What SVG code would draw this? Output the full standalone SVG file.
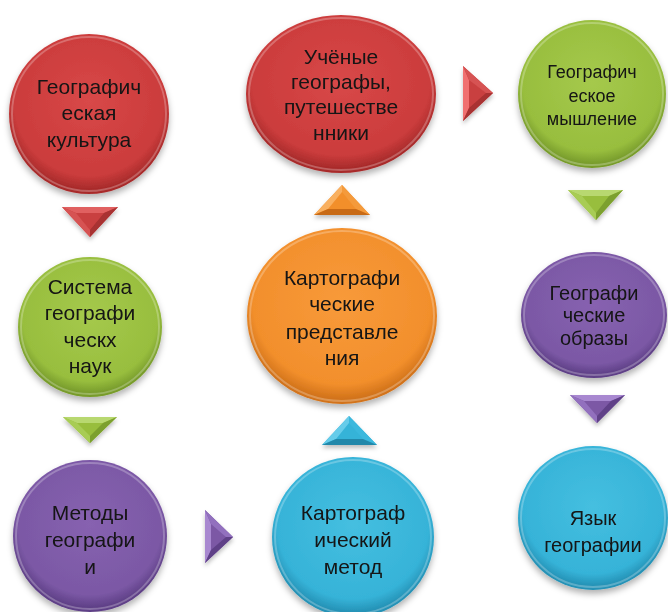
<svg xmlns="http://www.w3.org/2000/svg" width="668" height="612" viewBox="0 0 668 612">
<style>
text{font-family:"Liberation Sans",Arial,sans-serif;font-size:21px;fill:#141414;text-anchor:middle}
.s18{font-size:18px}.s20{font-size:20px}
.node{filter:url(#sh)}
.hl{fill:none;stroke:#fff;stroke-opacity:.25;stroke-width:2}
.edge{fill:none;stroke:#000;stroke-opacity:.18;stroke-width:3}
</style>
<defs>
<filter id="sh" x="-20%" y="-20%" width="140%" height="150%"><feDropShadow dx="0" dy="4" stdDeviation="3" flood-color="#000" flood-opacity="0.3"/></filter>
<radialGradient id="gR" cx="50%" cy="42%" r="55%"><stop offset="0" stop-color="#D84848"/><stop offset="0.85" stop-color="#CB3C3C"/><stop offset="1" stop-color="#A82B2B"/></radialGradient>
<radialGradient id="gG" cx="50%" cy="42%" r="55%"><stop offset="0" stop-color="#A5C94C"/><stop offset="0.85" stop-color="#98BE3E"/><stop offset="1" stop-color="#789C2C"/></radialGradient>
<radialGradient id="gP" cx="50%" cy="42%" r="55%"><stop offset="0" stop-color="#8762B0"/><stop offset="0.85" stop-color="#7B58A5"/><stop offset="1" stop-color="#5F4087"/></radialGradient>
<radialGradient id="gO" cx="50%" cy="42%" r="55%"><stop offset="0" stop-color="#F89A3A"/><stop offset="0.85" stop-color="#F28F2C"/><stop offset="1" stop-color="#D2731A"/></radialGradient>
<radialGradient id="gB" cx="50%" cy="42%" r="55%"><stop offset="0" stop-color="#45BFE0"/><stop offset="0.85" stop-color="#36B3D8"/><stop offset="1" stop-color="#2592B6"/></radialGradient>
<filter id="tsh" x="-30%" y="-30%" width="160%" height="170%"><feDropShadow dx="0" dy="3" stdDeviation="2" flood-color="#000" flood-opacity="0.25"/></filter>
</defs>

<g id="connectors" filter="url(#tsh)">
  <g id="arrow-red-down">
    <polygon points="62,207 118,207 90,237" fill="#C94040"/>
    <polygon points="62,207 118,207 104,213 76,213" fill="#E06060"/>
    <polygon points="62,207 76,213 90,230 90,237" fill="#D65252"/>
    <polygon points="118,207 104,213 90,230 90,237" fill="#A83030"/>
  </g>
  <g id="arrow-green-down-left">
    <polygon points="63,417 117,417 90,443" fill="#98BE3E"/>
    <polygon points="63,417 117,417 103,423 77,423" fill="#B8D870"/>
    <polygon points="63,417 77,423 90,436 90,443" fill="#A8CC55"/>
    <polygon points="117,417 103,423 90,436 90,443" fill="#7CA02E"/>
  </g>
  <g id="arrow-purple-right">
    <polygon points="205,510 205,563 233,537" fill="#7B58A5"/>
    <polygon points="205,510 205,563 211,550 211,524" fill="#A888D0"/>
    <polygon points="205,510 211,524 226,537 233,537" fill="#9270BE"/>
    <polygon points="205,563 211,550 226,537 233,537" fill="#5F4087"/>
  </g>
  <g id="arrow-blue-up">
    <polygon points="322,445 377,445 349,416" fill="#36B3D8"/>
    <polygon points="322,445 336,439 349,423 349,416" fill="#66CCEA"/>
    <polygon points="377,445 363,439 349,423 349,416" fill="#3AB8DD"/>
    <polygon points="322,445 377,445 363,439 336,439" fill="#2488AA"/>
  </g>
  <g id="arrow-orange-up">
    <polygon points="314,215 370,215 342,185" fill="#F28F2C"/>
    <polygon points="314,215 328,209 342,192 342,185" fill="#F9B060"/>
    <polygon points="370,215 356,209 342,192 342,185" fill="#F49A3A"/>
    <polygon points="314,215 370,215 356,209 328,209" fill="#C86A16"/>
  </g>
  <g id="arrow-red-right">
    <polygon points="463,66 463,121 493,93" fill="#C94040"/>
    <polygon points="463,66 463,121 469,108 469,80" fill="#F07070"/>
    <polygon points="463,66 469,80 486,93 493,93" fill="#D65252"/>
    <polygon points="463,121 469,108 486,93 493,93" fill="#A83030"/>
  </g>
  <g id="arrow-green-down-right">
    <polygon points="568,190 623,190 596,220" fill="#98BE3E"/>
    <polygon points="568,190 623,190 609,196 582,196" fill="#B8D870"/>
    <polygon points="568,190 582,196 596,213 596,220" fill="#A8CC55"/>
    <polygon points="623,190 609,196 596,213 596,220" fill="#7CA02E"/>
  </g>
  <g id="arrow-purple-down-right">
    <polygon points="570,395 625,395 597,423" fill="#7B58A5"/>
    <polygon points="570,395 625,395 611,401 584,401" fill="#A888D0"/>
    <polygon points="570,395 584,401 597,416 597,423" fill="#9270BE"/>
    <polygon points="625,395 611,401 597,416 597,423" fill="#5F4087"/>
  </g>
</g>

<g id="node-geo-culture" class="node">
  <ellipse cx="89" cy="114" rx="80" ry="80" fill="url(#gR)"/>
  <ellipse cx="89" cy="114" rx="77" ry="77" class="hl"/>
  <text x="89" y="94">Географич</text>
  <text x="89" y="120">еская</text>
  <text x="89" y="147">культура</text>
</g>

<g id="node-scientists" class="node">
  <ellipse cx="341" cy="94" rx="95" ry="79" fill="url(#gR)"/>
  <ellipse cx="341" cy="94" rx="92" ry="76" class="hl"/>
  <text x="341" y="64">Учёные</text>
  <text x="341" y="89">географы,</text>
  <text x="341" y="114">путешестве</text>
  <text x="341" y="140">нники</text>
</g>

<g id="node-geo-thinking" class="node">
  <ellipse cx="592" cy="94" rx="74" ry="74" fill="url(#gG)"/>
  <ellipse cx="592" cy="94" rx="71" ry="71" class="hl"/>
  <text class="s18" x="592" y="78">Географич</text>
  <text class="s18" x="592" y="102">еское</text>
  <text class="s18" x="592" y="125">мышление</text>
</g>

<g id="node-system" class="node">
  <ellipse cx="90" cy="327" rx="72" ry="70" fill="url(#gG)"/>
  <ellipse cx="90" cy="327" rx="69" ry="67" class="hl"/>
  <text x="90" y="294">Система</text>
  <text x="90" y="320">географи</text>
  <text x="90" y="347">ческх</text>
  <text x="90" y="373">наук</text>
</g>

<g id="node-carto-repr" class="node">
  <ellipse cx="342" cy="316" rx="95" ry="88" fill="url(#gO)"/>
  <ellipse cx="342" cy="316" rx="92" ry="85" class="hl"/>
  <text x="342" y="285">Картографи</text>
  <text x="342" y="311">ческие</text>
  <text x="342" y="339">представле</text>
  <text x="342" y="365">ния</text>
</g>

<g id="node-geo-images" class="node">
  <ellipse cx="594" cy="315" rx="73" ry="63" fill="url(#gP)"/>
  <ellipse cx="594" cy="315" rx="70" ry="60" class="hl"/>
  <text class="s20" x="594" y="300">Географи</text>
  <text class="s20" x="594" y="322">ческие</text>
  <text class="s20" x="594" y="345">образы</text>
</g>

<g id="node-methods" class="node">
  <ellipse cx="90" cy="536" rx="77" ry="76" fill="url(#gP)"/>
  <ellipse cx="90" cy="536" rx="74" ry="73" class="hl"/>
  <text x="90" y="520">Методы</text>
  <text x="90" y="547">географи</text>
  <text x="90" y="574">и</text>
</g>

<g id="node-carto-method" class="node">
  <ellipse cx="353" cy="537" rx="81" ry="80" fill="url(#gB)"/>
  <ellipse cx="353" cy="537" rx="78" ry="77" class="hl"/>
  <text x="353" y="520">Картограф</text>
  <text x="353" y="547">ический</text>
  <text x="353" y="574">метод</text>
</g>

<g id="node-language" class="node">
  <ellipse cx="593" cy="518" rx="75" ry="72" fill="url(#gB)"/>
  <ellipse cx="593" cy="518" rx="72" ry="69" class="hl"/>
  <text class="s20" x="593" y="525">Язык</text>
  <text class="s20" x="593" y="552">географии</text>
</g>
</svg>
